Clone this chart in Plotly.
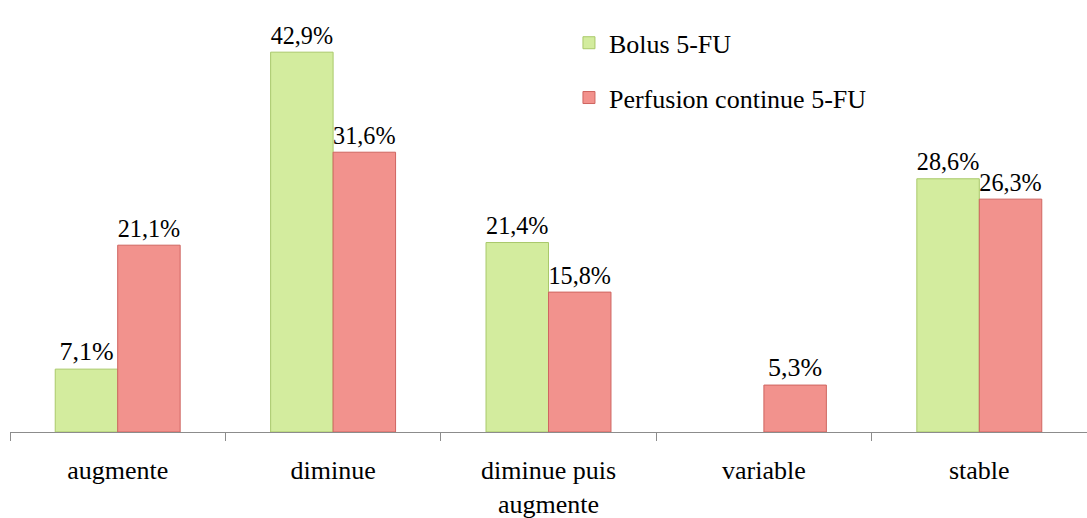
import plotly.graph_objects as go

categories = ["augmente", "diminue", "diminue puis<br>augmente", "variable", "stable"]
bolus = [7.1, 42.9, 21.4, 0, 28.6]
perfusion = [21.1, 31.6, 15.8, 5.3, 26.3]
series_names = ["Bolus 5-FU", "Perfusion continue 5-FU"]

SERIF = "'Times New Roman', 'Liberation Serif', Tinos, 'DejaVu Serif', serif"


def pct_labels(values):
    # pas d'étiquette pour les valeurs nulles
    return [f"{v:.1f}%".replace(".", ",") if v else "" for v in values]


def edge_widths(values):
    # pas de contour pour une barre de hauteur nulle
    return [1 if v else 0 for v in values]


fig = go.Figure()
fig.add_trace(go.Bar(
    x=categories, y=bolus, name=series_names[0],
    text=pct_labels(bolus), textposition="outside",
    marker=dict(color="#d3ec9e", line=dict(color="#a9c96a", width=edge_widths(bolus))),
    legendgroup="a",
))
fig.add_trace(go.Bar(
    x=categories, y=perfusion, name=series_names[1],
    text=pct_labels(perfusion), textposition="outside",
    marker=dict(color="#f2928d", line=dict(color="#cf6560", width=edge_widths(perfusion))),
    legendgroup="b",
))

fig.update_traces(textfont=dict(family=SERIF, size=26, color="black"),
                  cliponaxis=False)

fig.update_layout(
    width=1087, height=518,
    margin=dict(l=10, r=0, t=7, b=86),
    paper_bgcolor="white", plot_bgcolor="white",
    font=dict(family=SERIF, size=26, color="black"),
    barmode="group", bargap=0.42, bargroupgap=0,
    legend=dict(x=0.519, y=0.971, xanchor="left", yanchor="top",
                font=dict(family=SERIF, size=26), tracegroupgap=18, itemwidth=30,
                bgcolor="rgba(0,0,0,0)"),
    uniformtext=dict(mode=False),
)
fig.update_xaxes(showline=True, linecolor="#8c8c8c", linewidth=1,
                 ticks="outside", tickson="boundaries", ticklen=8, tickcolor="#8c8c8c",
                 ticklabelstandoff=15, showgrid=False, automargin=False)
fig.update_yaxes(range=[0, 48], visible=False, showgrid=False, zeroline=False,
                 automargin=False)

# la page par défaut a une marge de 8 px autour de la figure
fig.write_html("out.html", config={"displayModeBar": False},
               post_script="document.body.style.margin='0';document.body.style.overflow='hidden';")
